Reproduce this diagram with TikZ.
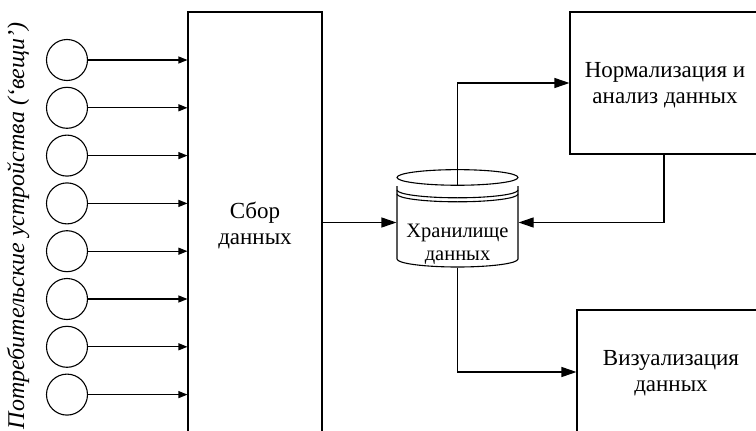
\documentclass[tikz,border=0pt]{standalone}
\usepackage{fontspec}
\setmainfont{Liberation Serif}
\usetikzlibrary{arrows.meta}

\tikzset{
  every picture/.style={line width=1.1pt},
  device/.style={circle, draw, minimum size=41pt, inner sep=0pt},
  block/.style={draw, rectangle, inner sep=0pt},
  lbl/.style={align=center, inner sep=0pt, font=\fontsize{23}{26}\selectfont},
  smallarrow/.style={-{Triangle[length=9pt,width=7pt]}},
  bigarrow/.style={-{Triangle[length=15pt,width=10pt]}},
}

\begin{document}
\begin{tikzpicture}[x=1pt, y=-1pt]
  \useasboundingbox (0,0) rectangle (756,431);
  \clip (0,0) rectangle (756,431);

  % vertical caption on the left
  \node[rotate=90, inner sep=0pt, font=\fontsize{24}{28}\selectfont\itshape] (caption) at (18,226)
    {Потребительские устройства (‘вещи’)};

  % collection block, running past the lower edge
  \node[block, minimum width=134pt, minimum height=448pt] (collect) at (255,236) {};
  \node[lbl] (collecttext) at (255,225) {Сбор\\данных};

  % devices feeding the collection block
  \foreach \i/\yy in {1/60, 2/107.8, 3/155.6, 4/203.4, 5/251.2, 6/299, 7/346.8, 8/394.6} {
    \node[device] (dev\i) at (67,\yy) {};
    \draw[smallarrow] (dev\i) -- (dev\i -| collect.west);
  }

  % storage cylinder
  \node[minimum width=121pt, minimum height=89pt, inner sep=0pt] (store) at (457.5,222.5) {};
  \draw (store.north) ellipse [x radius=60.5, y radius=7.8];
  \draw (397,190) arc [start angle=180, end angle=0, x radius=60.5, y radius=7.8];
  \draw (397,194) arc [start angle=180, end angle=0, x radius=60.5, y radius=7.8];
  \draw (397,186) -- (397,259)
        arc [start angle=180, end angle=0, x radius=60.5, y radius=8] -- (518,186);
  \node[align=center, inner sep=0pt, font=\fontsize{20.5}{23}\selectfont] (storetext) at (457.5,244)
    {Хранилище\\данных};

  % processing blocks on the right
  \node[block, minimum width=230pt, minimum height=142pt] (norm) at (685,83) {};
  \node[lbl] (normtext) at (665,85) {Нормализация и\\анализ данных};
  \node[block, minimum width=223pt, minimum height=124pt] (viz) at (688.5,372) {};
  \node[lbl] (viztext) at (671,373) {Визуализация\\данных};

  % data flow
  \draw[bigarrow] (collect.east |- store.west) -- (store.west);
  \draw[bigarrow] ([yshift=-8pt]store.north) |- (norm.west);
  \draw[bigarrow] (norm.south -| 664,0) |- (store.east);
  \draw[bigarrow] (store.south) |- (viz.west);
\end{tikzpicture}
\end{document}
